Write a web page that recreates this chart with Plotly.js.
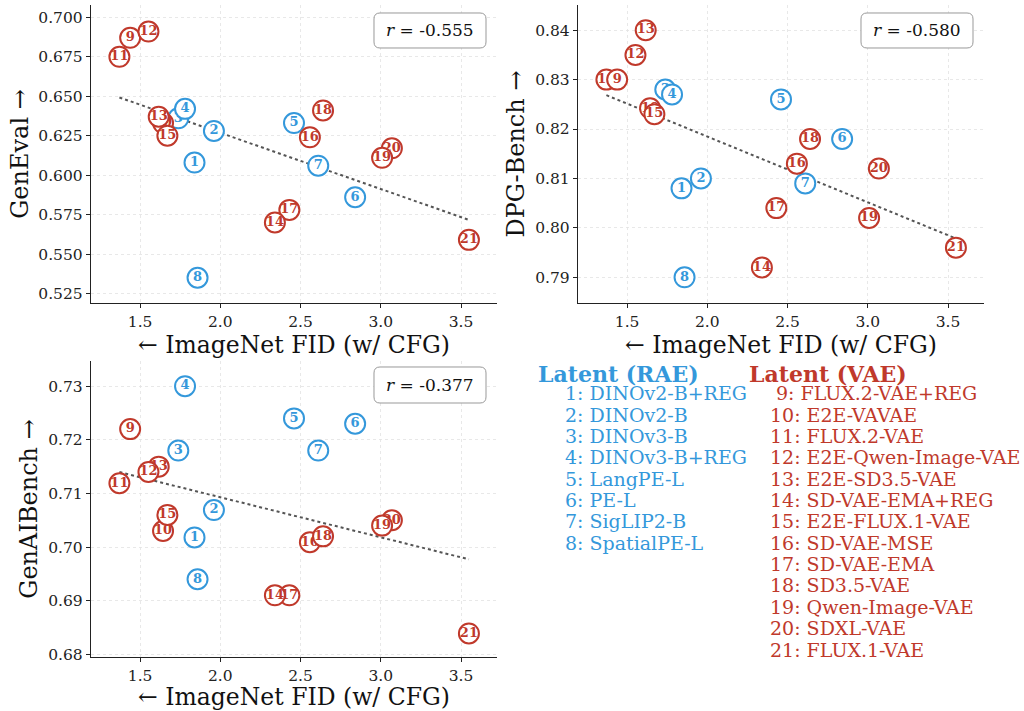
<!DOCTYPE html>
<html><head><meta charset="utf-8">
<script src="https://cdn.plot.ly/plotly-3.0.1.min.js"></script>
<style>html,body{margin:0;padding:0;background:#fff}</style>
</head><body><div id="chart" style="width:1024px;height:711px"></div>
<script>
// ---- data ----
const ids = [1,2,3,4,5,6,7,8,9,10,11,12,13,14,15,16,17,18,19,20,21];
const fid = [1.839,1.960,1.738,1.780,2.459,2.840,2.610,1.858,1.438,1.643,1.371,1.552,1.616,2.340,1.670,2.558,2.430,2.640,3.008,3.069,3.549];
const genEval = [0.608,0.628,0.636,0.642,0.633,0.586,0.606,0.535,0.687,0.633,0.675,0.691,0.637,0.570,0.625,0.624,0.578,0.641,0.611,0.617,0.559];
const dpgBench = [0.808,0.810,0.828,0.827,0.826,0.818,0.809,0.790,0.830,0.8242,0.830,0.835,0.840,0.792,0.823,0.813,0.804,0.818,0.802,0.812,0.796];
const genAIBench = [0.7018,0.7069,0.718,0.730,0.724,0.723,0.718,0.694,0.722,0.703,0.7119,0.714,0.715,0.691,0.706,0.7009,0.691,0.702,0.704,0.705,0.6839];
const raeIds = [1,2,3,4,5,6,7,8];
const vaeIds = [9,10,11,12,13,14,15,16,17,18,19,20,21];
const raeNames = ["DINOv2-B+REG","DINOv2-B","DINOv3-B","DINOv3-B+REG","LangPE-L","PE-L","SigLIP2-B","SpatialPE-L"];
const vaeNames = ["FLUX.2-VAE+REG","E2E-VAVAE","FLUX.2-VAE","E2E-Qwen-Image-VAE","E2E-SD3.5-VAE","SD-VAE-EMA+REG","E2E-FLUX.1-VAE","SD-VAE-MSE","SD-VAE-EMA","SD3.5-VAE","Qwen-Image-VAE","SDXL-VAE","FLUX.1-VAE"];
const rLabels = ["-0.555","-0.580","-0.377"];
const metricNames = ["GenEval","DPG-Bench","GenAIBench"];
const yTicks1 = [0.525,0.550,0.575,0.600,0.625,0.650,0.675,0.700];
const yTicks2 = [0.79,0.80,0.81,0.82,0.83,0.84];
const yTicks3 = [0.68,0.69,0.70,0.71,0.72,0.73];
const xTicks = [1.5,2.0,2.5,3.0,3.5];
// drawing order (later on top)
const drawOrder = [1,2,3,4,5,6,7,8,11,9,10,15,13,12,17,14,16,18,20,19,21];

const BLUE = '#3498db', RED = '#c0392b';
const W = 1024, H = 711;
const SERIF = 'DejaVu Serif';
const px = v => v / W, py = v => 1 - v / H;

const panels = [
  {vals: genEval, xa: 'x', ya: 'y', box: [374,13,486,48]},
  {vals: dpgBench, xa: 'x2', ya: 'y2', box: [861,13,973,48]},
  {vals: genAIBench, xa: 'x3', ya: 'y3', box: [374,367,486,403]},
];

const traces = [];
panels.forEach((p, k) => {
  // least-squares trend line
  const n = fid.length;
  const mx = fid.reduce((a,b)=>a+b,0)/n, my = p.vals.reduce((a,b)=>a+b,0)/n;
  let sxy = 0, sxx = 0;
  for (let i=0;i<n;i++){ sxy += (fid[i]-mx)*(p.vals[i]-my); sxx += (fid[i]-mx)**2; }
  const b = sxy/sxx, a = my - b*mx;
  const x0 = Math.min(...fid), x1 = Math.max(...fid);
  traces.push({type:'scatter', mode:'lines', x:[x0,x1], y:[a+b*x0, a+b*x1], xaxis:p.xa, yaxis:p.ya,
    line:{color:'#555', width:2, dash:'dot'}, hoverinfo:'skip', showlegend:false});
  drawOrder.forEach(id => {
    const i = id - 1;
    const col = id <= 8 ? BLUE : RED;
    traces.push({type:'scatter', mode:'markers+text', x:[fid[i]], y:[p.vals[i]], text:[String(id)],
      textposition:'middle center', xaxis:p.xa, yaxis:p.ya, cliponaxis:false,
      marker:{size:20, color:'white', line:{color:col, width:2}},
      textfont:{family:SERIF, size:13, color:col, weight:'bold'},
      hoverinfo:'skip', showlegend:false});
  });
});

function xaxisDef(dom, anchor){
  return {domain: dom, anchor: anchor, range:[1.194,3.724], tickvals: xTicks, ticktext: xTicks.map(v=>v.toFixed(1)),
    ticks:'outside', ticklen:4, tickcolor:'#222', showline:true, linecolor:'#222', linewidth:1.2,
    showgrid:true, gridcolor:'#e2e2e2', griddash:'dot', gridwidth:0.8, zeroline:false,
    tickfont:{family:SERIF, size:15.5, color:'#222'},
    title:{text:'← ImageNet FID (w/ CFG)', font:{family:SERIF, size:23.5, color:'#111'}, standoff:1}};
}
function yaxisDef(dom, anchor, range, ticks, fmt, name){
  return {domain: dom, anchor: anchor, range: range, tickvals: ticks, ticktext: ticks.map(v=>v.toFixed(fmt)),
    ticks:'outside', ticklen:4, tickcolor:'#222', showline:true, linecolor:'#222', linewidth:1.2,
    showgrid:true, gridcolor:'#e2e2e2', griddash:'dot', gridwidth:0.8, zeroline:false,
    tickfont:{family:SERIF, size:15.5, color:'#222'},
    title:{text: name + ' →', font:{family:SERIF, size:24, color:'#111'}, standoff:3}};
}

const shapes = [], annotations = [];
function roundRect(x0,y0,x1,y1,r){
  const X = v => px(v).toFixed(5), Y = v => py(v).toFixed(5);
  return `M ${X(x0+r)},${Y(y0)} L ${X(x1-r)},${Y(y0)} Q ${X(x1)},${Y(y0)} ${X(x1)},${Y(y0+r)} `+
    `L ${X(x1)},${Y(y1-r)} Q ${X(x1)},${Y(y1)} ${X(x1-r)},${Y(y1)} L ${X(x0+r)},${Y(y1)} `+
    `Q ${X(x0)},${Y(y1)} ${X(x0)},${Y(y1-r)} L ${X(x0)},${Y(y0+r)} Q ${X(x0)},${Y(y0)} ${X(x0+r)},${Y(y0)} Z`;
}
panels.forEach((p,k) => {
  const [x0,y0,x1,y1] = p.box;
  shapes.push({type:'path', xref:'paper', yref:'paper', path: roundRect(x0,y0,x1,y1,6),
    fillcolor:'white', line:{color:'#999', width:1}, layer:'above'});
  annotations.push({xref:'paper', yref:'paper', x:px((x0+x1)/2), y:py((y0+y1)/2), xanchor:'center', yanchor:'middle',
    showarrow:false, text:'<i>r</i> = ' + rLabels[k], font:{family:SERIF, size:17, color:'#111'}});
});

// legend text
annotations.push({xref:'paper', yref:'paper', x:px(536), y:py(374), xanchor:'left', yanchor:'middle', showarrow:false,
  text:'<b>Latent (RAE)</b>', font:{family:SERIF, size:22, color:BLUE}});
annotations.push({xref:'paper', yref:'paper', x:px(747), y:py(374), xanchor:'left', yanchor:'middle', showarrow:false,
  text:'<b>Latent (VAE)</b>', font:{family:SERIF, size:22, color:RED}});
raeIds.forEach((id, j) => {
  annotations.push({xref:'paper', yref:'paper', x:px(563), y:py(393.3 + 21.35*j), xanchor:'left', yanchor:'middle', showarrow:false,
    text: id + ': ' + raeNames[j], font:{family:SERIF, size:19, color:BLUE}});
});
vaeIds.forEach((id, j) => {
  annotations.push({xref:'paper', yref:'paper', x:px(id < 10 ? 774 : 768), y:py(393.3 + 21.35*j), xanchor:'left', yanchor:'middle', showarrow:false,
    text: id + ': ' + vaeNames[j], font:{family:SERIF, size:19, color:RED}});
});

const layout = {
  width: W, height: H, margin:{l:0, r:0, t:0, b:0}, paper_bgcolor:'white', plot_bgcolor:'white',
  showlegend:false,
  xaxis: xaxisDef([px(91), px(497)], 'y'),
  yaxis: yaxisDef([py(303), py(5)], 'x', [0.519,0.7078], yTicks1, 3, metricNames[0]),
  xaxis2: xaxisDef([px(578), px(984)], 'y2'),
  yaxis2: yaxisDef([py(303), py(5)], 'x2', [0.7848,0.8451], yTicks2, 2, metricNames[1]),
  xaxis3: xaxisDef([px(91), px(497)], 'y3'),
  yaxis3: yaxisDef([py(657), py(361)], 'x3', [0.6795,0.7347], yTicks3, 2, metricNames[2]),
  shapes: shapes, annotations: annotations
};
Plotly.newPlot('chart', traces, layout, {staticPlot:true});
</script></body></html>
